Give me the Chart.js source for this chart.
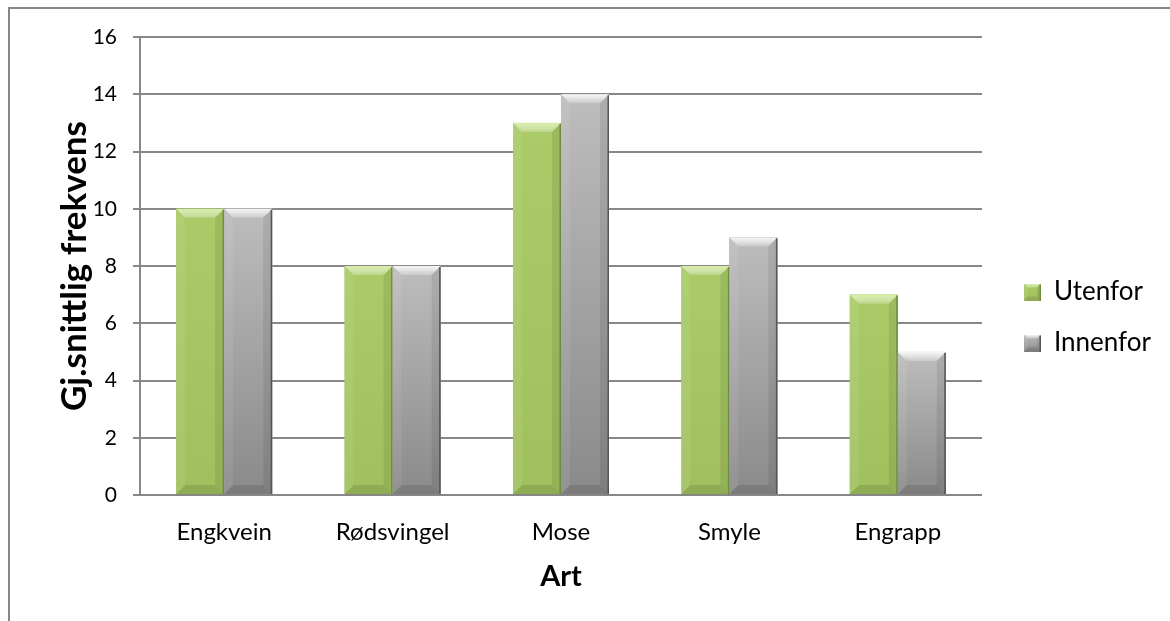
<!DOCTYPE html>
<html>
<head>
<meta charset="utf-8">
<script src="https://cdn.jsdelivr.net/npm/chart.js@4"></script>
<style>
  html, body { margin: 0; padding: 0; background: #fff; }
  #frame { position: absolute; left: 8px; top: 7px; width: 1200px; height: 700px;
           border-left: 2px solid #878787; border-top: 2px solid #878787; }
  #wrap { position: absolute; left: 0; top: 0; width: 1170px; height: 621px; }
</style>
</head>
<body>
<div id="frame"></div>
<div id="wrap"><canvas id="chart"></canvas></div>
<script>
// average frequency per species, outside vs inside
const arter = ['Engkvein', 'Rødsvingel', 'Mose', 'Smyle', 'Engrapp'];
const utenfor = [10, 8, 13, 8, 7];
const innenfor = [10, 8, 14, 9, 5];

const FONT = 'Lato, Calibri, "Open Sans", sans-serif';

// colours for the two series: body, light top, dark edge
const palette = {
  green: { top: '#aacb68', bottom: '#a0c05e', hi: '#d6eca4', edge: '#6f8c38' },
  grey:  { top: '#bdbdbd', bottom: '#8a8a8a', hi: '#f6f6f6', edge: '#555555' }
};

// draws one bevelled rectangle (used for bars and legend swatches)
function bevelRect(ctx, left, top, right, bottom, c, b) {
  const w = right - left, h = bottom - top;
  if (h <= 0) return;
  b = Math.min(b, w / 3, h / 3);
  let g = ctx.createLinearGradient(0, top, 0, bottom);
  g.addColorStop(0, c.top);
  g.addColorStop(1, c.bottom);
  ctx.fillStyle = g;
  ctx.fillRect(left, top, w, h);

  // top bevel
  g = ctx.createLinearGradient(0, top, 0, top + b);
  g.addColorStop(0, c.hi);
  g.addColorStop(1, 'rgba(255,255,255,0.2)');
  ctx.fillStyle = g;
  ctx.beginPath();
  ctx.moveTo(left, top); ctx.lineTo(right, top);
  ctx.lineTo(right - b, top + b); ctx.lineTo(left + b, top + b);
  ctx.closePath(); ctx.fill();

  // left bevel
  ctx.fillStyle = 'rgba(255,255,255,0.08)';
  ctx.beginPath();
  ctx.moveTo(left, top); ctx.lineTo(left + b, top + b);
  ctx.lineTo(left + b, bottom - b); ctx.lineTo(left, bottom);
  ctx.closePath(); ctx.fill();

  // right bevel
  ctx.fillStyle = 'rgba(0,0,0,0.08)';
  ctx.beginPath();
  ctx.moveTo(right, top); ctx.lineTo(right - b, top + b);
  ctx.lineTo(right - b, bottom - b); ctx.lineTo(right, bottom);
  ctx.closePath(); ctx.fill();

  // bottom bevel
  ctx.fillStyle = 'rgba(0,0,0,0.10)';
  ctx.beginPath();
  ctx.moveTo(left, bottom); ctx.lineTo(right, bottom);
  ctx.lineTo(right - b, bottom - b); ctx.lineTo(left + b, bottom - b);
  ctx.closePath(); ctx.fill();

  // thin dark edge on the right side
  ctx.fillStyle = c.edge;
  ctx.fillRect(right - 1.5, top + 1, 1.5, h - 1);
}

// legend swatch, with empty room on the left so it sits further right
function swatch(c) {
  const cv = document.createElement('canvas');
  cv.width = 34; cv.height = 17;
  bevelRect(cv.getContext('2d'), 17, 0, 34, 17, c, 4);
  return cv;
}

const bevelBars = {
  id: 'bevelBars',
  afterDatasetsDraw(chart) {
    const ctx = chart.ctx;
    ctx.save();
    chart.data.datasets.forEach((ds, i) => {
      const meta = chart.getDatasetMeta(i);
      if (meta.hidden) return;
      meta.data.forEach(bar => {
        const p = bar.getProps(['x', 'y', 'base', 'width'], true);
        bevelRect(ctx, p.x - p.width / 2, p.y, p.x + p.width / 2, p.base, ds.bevel, 9);
      });
    });
    ctx.restore();
  }
};

new Chart(document.getElementById('chart'), {
  type: 'bar',
  data: {
    labels: arter,
    datasets: [
      { label: 'Utenfor', data: utenfor, backgroundColor: '#a0c05e', bevel: palette.green,
        pointStyle: swatch(palette.green) },
      { label: 'Innenfor', data: innenfor, backgroundColor: '#a0a0a0', bevel: palette.grey,
        pointStyle: swatch(palette.grey) }
    ]
  },
  options: {
    responsive: true,
    maintainAspectRatio: false,
    animation: false,
    layout: { padding: { left: 50, top: 37, right: 9, bottom: 23 } },
    datasets: { bar: { categoryPercentage: 0.57, barPercentage: 1.0 } },
    plugins: {
      tooltip: { enabled: false },
      legend: {
        position: 'right',
        labels: {
          usePointStyle: true,
          pointStyleWidth: 34,
          padding: 25,
          color: '#000',
          font: { family: FONT, size: 26 }
        }
      }
    },
    scales: {
      x: {
        afterFit(scale) { scale.height = 103; },
        grid: { display: false },
        border: { display: true, color: '#878787', width: 2 },
        ticks: { color: '#000', padding: 15, font: { family: FONT, size: 24 } },
        title: { display: true, text: 'Art', color: '#000', font: { family: FONT, size: 29, weight: 'bold' } }
      },
      y: {
        min: 0,
        max: 16,
        afterFit(scale) { scale.width = 90; },
        ticks: { stepSize: 2, color: '#000', padding: 16, font: { family: FONT, size: 21 } },
        grid: { color: '#878787', lineWidth: 2, tickLength: 7 },
        border: { display: true, color: '#878787', width: 2 },
        title: { display: true, text: 'Gj.snittlig frekvens', color: '#000', font: { family: FONT, size: 35, weight: 'bold' } }
      }
    }
  },
  plugins: [bevelBars]
});
</script>
</body>
</html>
